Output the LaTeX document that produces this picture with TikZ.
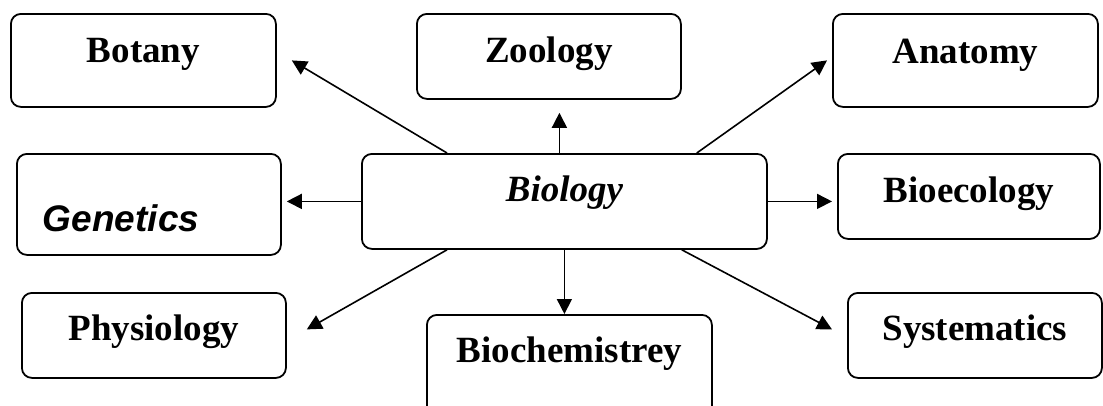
\documentclass[tikz,border=0pt]{standalone}
\usepackage{fontspec}
\setmainfont{Liberation Serif}
\newfontfamily\gensans{Liberation Sans}
\usetikzlibrary{arrows.meta}

\tikzset{every picture/.style={line width=1.5pt}}
\tikzset{
	subj/.style={draw, rounded corners=10pt, line width=1.8pt, anchor=north west,
		inner ysep=0pt, font=\fontsize{37}{44}\selectfont\bfseries},
	arr/.style={line width=1.6pt, -{Triangle[length=15pt,width=15pt]}},
}

\begin{document}
\begin{tikzpicture}[x=1pt,y=1pt,yscale=-1]
	\useasboundingbox (0,0) rectangle (1103,405);
	
	% Subject boxes
	\node [subj, minimum width=265pt, text height=49pt, text depth=44pt] (botany) at (10,13) {Botany};
	\node [subj, minimum width=264pt, text height=49pt, text depth=36pt] (zoology) at (416,13) {Zoology};
	\node [subj, minimum width=265pt, text height=50pt, text depth=43pt] (anatomy) at (832,13) {Anatomy};
	\node [subj, inner xsep=26pt, text width=212pt, align=left, text height=78pt, text depth=23pt,
		font=\fontsize{37}{44}\gensans\bfseries\itshape] (genetics) at (16,153) {Genetics};
	\node [subj, minimum width=405pt, text height=48pt, text depth=47pt, font=\fontsize{37}{44}\selectfont\bfseries\itshape] (biology) at (361,153) {Biology};
	\node [subj, minimum width=262pt, text height=49pt, text depth=36pt] (bioecology) at (837,153) {Bioecology};
	\node [subj, minimum width=264pt, text height=48pt, text depth=37pt] (physiology) at (21,292) {Physiology};
	\node [subj, minimum width=285pt, text height=48pt, text depth=58pt] (biochem) at (426,314) {Biochemistrey};
	\node [subj, minimum width=254pt, text height=48pt, text depth=37pt] (systematics) at (847,292) {Systematics};
	
	% Arrows out of Biology
	\draw [arr] ([xshift=86pt]biology.north west) -- ([xshift=15pt]botany.east);
	\draw [arr] ([xshift=-5pt]biology.north) -- ([xshift=-5pt,yshift=13pt]biology.north |- zoology.south);
	\draw [arr] ([xshift=-71pt]biology.north east) -- ([xshift=-5pt]anatomy.west);
	\draw [arr] (biology.west) -- ([xshift=5pt]biology.west -| genetics.east);
	\draw [arr] (biology.east) -- ([xshift=-5pt]biology.east -| bioecology.west);
	\draw [arr] ([xshift=86pt]biology.south west) -- ([xshift=20pt,yshift=-6pt]physiology.east);
	\draw [arr] (biology.south) -- (biology.south |- biochem.north);
	\draw [arr] ([xshift=-86pt]biology.south east) -- ([xshift=-15pt,yshift=-6pt]systematics.west);
	
\end{tikzpicture}
\end{document}
